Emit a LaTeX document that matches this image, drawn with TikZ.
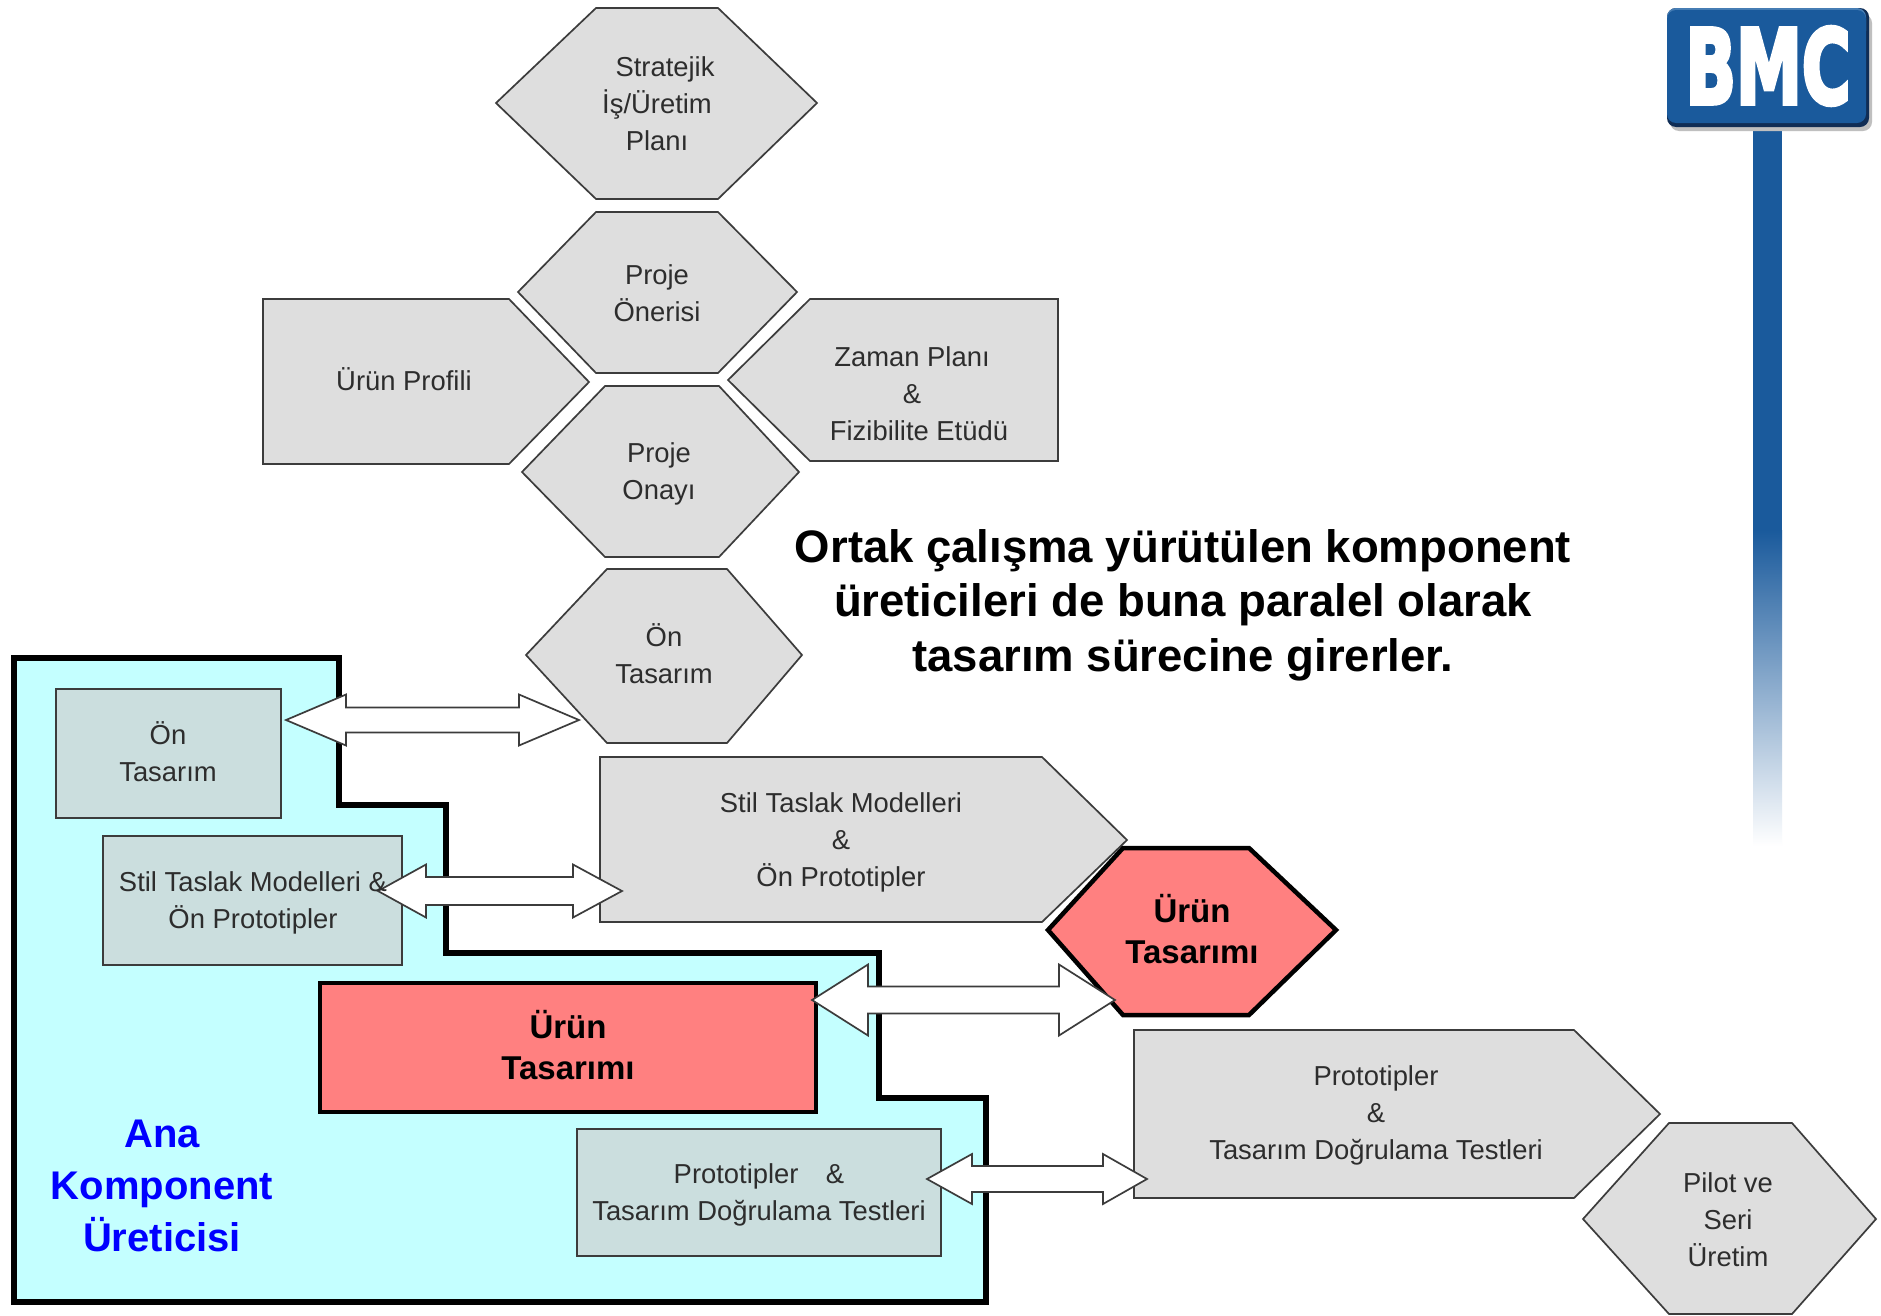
\documentclass[tikz,border=0pt]{standalone}
\usepackage{fontspec}
\setmainfont{Liberation Sans}
\newfontfamily\bmcfont[BoldFeatures={FakeBold=4.5}]{DejaVu Sans}
\usetikzlibrary{calc}
\definecolor{shapegray}{RGB}{222,222,222}
\definecolor{innergray}{RGB}{203,222,222}
\definecolor{panelcyan}{RGB}{196,255,255}
\definecolor{hotred}{RGB}{255,128,128}
\definecolor{bmcblue}{RGB}{26,90,156}
\definecolor{bmcnavy}{RGB}{16,45,85}
\definecolor{bmclight}{RGB}{70,125,180}
\definecolor{edgegray}{RGB}{60,60,60}
\definecolor{labelgray}{RGB}{45,45,45}
\tikzset{
  x=1pt,y=-1pt,
  grayshape/.style={draw=edgegray,line width=1.7pt,fill=shapegray,line join=miter},
  innerbox/.style={draw=edgegray,line width=1.7pt,fill=innergray},
  redshape/.style={draw=black,line width=4.5pt,fill=hotred,line join=miter},
  panel/.style={draw=black,line width=5.5pt,fill=panelcyan,line join=miter},
  blockarrow/.style={draw=edgegray,line width=1.7pt,fill=white,line join=miter},
  lbl/.style={align=center,font=\fontsize{27.4}{37}\selectfont,text=labelgray,inner sep=0pt},
  redlbl/.style={align=center,font=\bfseries\fontsize{33}{41}\selectfont,text=black,inner sep=0pt},
  headlbl/.style={align=center,font=\bfseries\fontsize{45.5}{54.5}\selectfont,text=black,inner sep=0pt},
  bluelbl/.style={align=center,font=\bfseries\fontsize{40}{52}\selectfont,text=blue,inner sep=0pt},
}
% #1 name, #2 left tip x, #3 left head base x, #4 right head base x, #5 right tip x,
% #6 axis y, #7 shaft half width, #8 head half width
\newcommand{\dblarrow}[8]{%
  \coordinate (#1L) at (#2,#6);
  \coordinate (#1R) at (#5,#6);
  \draw[blockarrow] (#1L) -- (#3,#6-#8) -- (#3,#6-#7) -- (#4,#6-#7) -- (#4,#6-#8)
    -- (#1R) -- (#4,#6+#8) -- (#4,#6+#7) -- (#3,#6+#7) -- (#3,#6+#8) -- cycle;
}
\begin{document}
\begin{tikzpicture}
\useasboundingbox (0,0) rectangle (1881,1315);
\fill[white] (0,0) rectangle (1881,1315);

% top gray shapes
\draw[grayshape] (496,103) -- (596,8) -- (718,8) -- (817,103) -- (718,199) -- (596,199) -- cycle;
\draw[grayshape] (518,292) -- (596,212) -- (718,212) -- (797,292) -- (718,373) -- (596,373) -- cycle;
\draw[grayshape] (263,299) -- (509,299) -- (589,382) -- (509,464) -- (263,464) -- cycle;
\draw[grayshape] (1058,299) -- (810,299) -- (728,380) -- (810,461) -- (1058,461) -- cycle;
\draw[grayshape] (522,472) -- (605,386) -- (719,386) -- (799,472) -- (719,557) -- (605,557) -- cycle;
\draw[grayshape] (526,655) -- (607,569) -- (727,569) -- (802,655) -- (727,743) -- (607,743) -- cycle;
\draw[grayshape] (600,757) -- (1042,757) -- (1127,840) -- (1042,922) -- (600,922) -- cycle;
\draw[grayshape] (1134,1030) -- (1574,1030) -- (1660,1114) -- (1574,1198) -- (1134,1198) -- cycle;
\draw[grayshape] (1583,1219) -- (1669,1123) -- (1792,1123) -- (1876,1219) -- (1792,1314) -- (1669,1314) -- cycle;

% panel
\draw[panel] (14,658) -- (339,658) -- (339,805) -- (446,805) -- (446,953) -- (879,953) -- (879,1098)
  -- (986,1098) -- (986,1302) -- (14,1302) -- cycle;
\draw[innerbox] (56,689) rectangle (281,818);
\draw[innerbox] (103,836) rectangle (402,965);
\draw[innerbox] (577,1129) rectangle (941,1256);
\draw[redshape] (320,983) rectangle (816,1112);
\draw[redshape] (1048,930) -- (1123,848) -- (1249,848) -- (1336,930) -- (1249,1015) -- (1123,1015) -- cycle;

% block arrows
\dblarrow{a}{286}{346}{519}{579}{720}{12.5}{25.5}
\dblarrow{b}{378}{426}{573}{622}{891}{14}{26.5}
\dblarrow{c}{812}{868}{1059}{1115}{1000}{13.5}{35.5}
\dblarrow{d}{927}{972}{1103}{1147}{1179}{13}{25}

% labels
\node[lbl] (n1) at (657,104) {\hspace*{16pt}Stratejik\\İş/Üretim\\Planı};
\node[lbl] (n2) at (657,293) {Proje\\Önerisi};
\node[lbl] (n3) at (404,379) {Ürün Profili};
\node[lbl] (n4) at (912,394) {Zaman Planı\\\&\\\hspace*{14pt}Fizibilite Etüdü};
\node[lbl] (n5) at (659,474) {Proje\\Onayı};
\node[lbl] (n6) at (664,654) {Ön\\Tasarım};
\node[lbl] (n7) at (841,842) {Stil Taslak Modelleri\\\&\\Ön Prototipler};
\node[lbl] (n8) at (1376,1115) {Prototipler\\\&\\Tasarım Doğrulama Testleri};
\node[lbl] (n9) at (1728,1220) {Pilot ve\\Seri\\Üretim};
\node[lbl] (n10) at (168,752) {Ön\\Tasarım};
\node[lbl] (n11) at (253,903) {Stil Taslak Modelleri \&\\Ön Prototipler};
\node[lbl] (n12) at (759,1195) {Prototipler\quad\&\\Tasarım Doğrulama Testleri};
\node[redlbl] (n13) at (568,1045) {Ürün\\Tasarımı};
\node[redlbl] (n14) at (1192,929) {Ürün\\Tasarımı};
\node[bluelbl] (n15) at (162,1186) {Ana\\Komponent\\Üreticisi};
\node[headlbl] (n16) at (1183,605) {Ortak çalışma yürütülen komponent\\üreticileri de buna paralel olarak\\tasarım sürecine girerler.};

% logo
\fill[bmcblue] (1753,125) rectangle (1782,530);
\shade[top color=bmcblue,bottom color=white] (1753,530) rectangle (1782,846);
\fill[black!25,rounded corners=9pt] (1670,14) rectangle (1872,131);
\fill[bmcnavy,rounded corners=9pt] (1667,8) rectangle (1869,127);
\fill[bmclight,rounded corners=9pt] (1667,8) rectangle (1866,40);
\fill[bmcblue,rounded corners=9pt] (1667,10) rectangle (1866,123);
\node[inner sep=0pt,text=white,font=\bmcfont\bfseries\fontsize{92}{92}\selectfont,xscale=0.72,yscale=1.12] (logo) at (1768,66) {BMC};
\end{tikzpicture}
\end{document}
